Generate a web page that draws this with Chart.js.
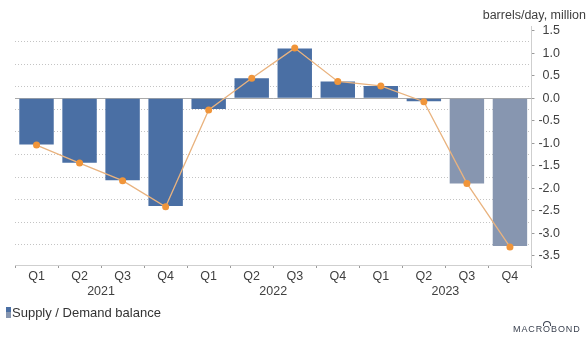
<!DOCTYPE html>
<html>
<head>
<meta charset="utf-8">
<script src="https://cdn.jsdelivr.net/npm/chart.js@4.4.1/dist/chart.umd.min.js"></script>
<style>
  html, body { margin: 0; padding: 0; background: #fff; }
  #wrap { position: relative; width: 586px; height: 342px; font-family: "Liberation Sans", Arial, sans-serif; }
  #unit { position: absolute; right: 0px; top: 8px; font-size: 12.5px; color: #404040; }
  #legend { position: absolute; left: 6px; top: 305px; font-size: 13px; color: #333; display: flex; align-items: center; }
  #legend .icon { display: inline-block; width: 5px; height: 11px; margin-right: 1px; }
  #brand { position: absolute; left: 513px; top: 324px; font-size: 9px; letter-spacing: 0.9px; color: #3b4250; }
  #brand .o { position: relative; }
  #brand .o:before { content: ""; position: absolute; left: 0px; top: -3px; width: 6px; height: 4px;
    border: 1px solid #3b4250; border-bottom: none; border-radius: 4px 4px 0 0; }
</style>
</head>
<body>
<div id="wrap">
  <canvas id="myChart" width="586" height="342"></canvas>
  <div id="unit">barrels/day, million</div>
  <div id="legend"></div>
  <div id="brand">MACR<span class="o">O</span>BOND</div>
</div>
<script>
// DATA ----------------------------------------------------------------------
var quarters = ["Q1", "Q2", "Q3", "Q4", "Q1", "Q2", "Q3", "Q4", "Q1", "Q2", "Q3", "Q4"];
var years = ["2021", "2022", "2023"];
var balance = [-1.03, -1.43, -1.82, -2.39, -0.24, 0.44, 1.10, 0.37, 0.27, -0.07, -1.89, -3.28];
var balanceLine = [-1.04, -1.44, -1.83, -2.41, -0.26, 0.44, 1.11, 0.37, 0.27, -0.08, -1.89, -3.30];
var forecastFrom = 10;
var yLabels = [-3.5, -3.0, -2.5, -2.0, -1.5, -1.0, -0.5, 0.0, 0.5, 1.0, 1.5];
var yGrid = [-3.25, -2.75, -2.25, -1.75, -1.25, -0.75, -0.25, 0.25, 0.75, 1.25];

var blue = "#4a6fa4";
var grey = "#8796b0";

var barColors = balance.map(function(v, i){ return i >= forecastFrom ? grey : blue; });

// ZERO LINE -----------------------------------------------------------------
var zeroLine = {
  id: "zeroLine",
  beforeDatasetsDraw: function(chart){
    var y = chart.scales.y.getPixelForValue(0);
    var area = chart.chartArea;
    var ctx = chart.ctx;
    ctx.save();
    ctx.strokeStyle = "#a9a9a9";
    ctx.lineWidth = 1;
    ctx.beginPath();
    ctx.moveTo(area.left, Math.round(y) + 0.5);
    ctx.lineTo(area.right, Math.round(y) + 0.5);
    ctx.stroke();
    ctx.restore();
  }
};

// CHART ---------------------------------------------------------------------
function createChart(){
  var ctx = document.getElementById("myChart").getContext("2d");
  Chart.defaults.font.family = '"Liberation Sans", Arial, sans-serif';
  Chart.defaults.color = "#404040";

  new Chart(ctx, {
    type: "bar",
    data: {
      labels: quarters,
      datasets: [{
        type: "line",
        label: "Supply / Demand balance (line)",
        data: balanceLine,
        borderColor: "#e9b37f",
        borderWidth: 1.3,
        pointRadius: 3.5,
        pointBackgroundColor: "#f0953a",
        pointBorderWidth: 0,
        tension: 0,
        order: 0
      }, {
        label: "Supply / Demand balance",
        data: balance,
        backgroundColor: barColors,
        borderColor: barColors,
        borderWidth: 0,
        barPercentage: 0.8,
        categoryPercentage: 1.0,
        order: 1
      }]
    },
    options: {
      responsive: false,
      animation: false,
      layout: { padding: { left: 15, right: 26, top: 26, bottom: 44 } },
      plugins: {
        legend: { display: false },
        tooltip: { enabled: false }
      },
      scales: {
        x: {
          grid: { offset: true, drawOnChartArea: false, tickLength: 3, tickColor: "#9a9a9a" },
          border: { color: "#cfcfcf" },
          ticks: { font: { size: 12.5 }, padding: 1.5, maxRotation: 0 }
        },
        x2: {
          type: "category",
          labels: years,
          offset: true,
          grid: { display: false, drawTicks: false },
          border: { display: false },
          ticks: { font: { size: 12.5 }, padding: -1.5 }
        },
        y: {
          position: "right",
          min: -3.7,
          max: 1.6,
          afterBuildTicks: function(scale){
            scale.ticks = yLabels.concat(yGrid).sort(function(a, b){ return a - b; })
              .map(function(v){ return { value: v }; });
          },
          grid: {
            color: function(c){
              return yGrid.indexOf(c.tick.value) >= 0 ? "#c4c4c4" : "rgba(0,0,0,0)";
            },
            tickColor: function(c){
              return yLabels.indexOf(c.tick.value) >= 0 ? "#9a9a9a" : "rgba(0,0,0,0)";
            },
            lineWidth: 1,
            tickLength: 3
          },
          border: { color: "#cfcfcf", dash: [1, 2] },
          ticks: {
            autoSkip: false,
            font: { size: 12.5 },
            padding: 2,
            crossAlign: "far",
            callback: function(v){
              return yLabels.indexOf(v) >= 0 ? v.toFixed(1) : "";
            }
          }
        }
      }
    },
    plugins: [zeroLine]
  });
}

// LEGEND --------------------------------------------------------------------
function makeLegend(){
  var el = document.getElementById("legend");
  var icon = document.createElement("span");
  icon.className = "icon";
  icon.style.background = "linear-gradient(" + blue + " 50%, " + grey + " 50%)";
  el.appendChild(icon);
  el.appendChild(document.createTextNode("Supply / Demand balance"));
}

createChart();
makeLegend();
</script>
</body>
</html>
